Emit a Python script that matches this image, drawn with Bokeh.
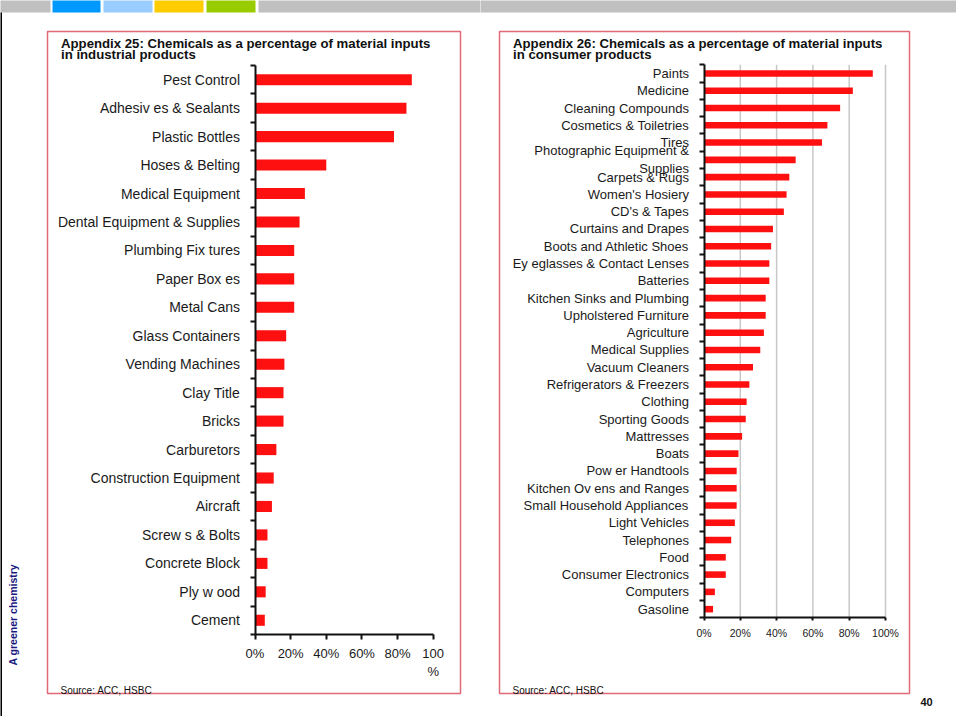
import math
from bokeh.plotting import figure
from bokeh.layouts import row
from bokeh.models import Range1d, FixedTicker, Label, BoxAnnotation
from bokeh.embed import file_html
from bokeh.resources import INLINE

# ---------------- data ----------------
ind_categories = ["Pest Control", "Adhesiv es & Sealants", "Plastic Bottles", "Hoses & Belting",
                  "Medical Equipment", "Dental Equipment & Supplies", "Plumbing Fix tures",
                  "Paper Box es", "Metal Cans", "Glass Containers", "Vending Machines",
                  "Clay Title", "Bricks", "Carburetors", "Construction Equipment", "Aircraft",
                  "Screw s & Bolts", "Concrete Block", "Ply w ood", "Cement"]
ind_values = [88, 85, 78, 40, 28, 25, 22, 22, 22, 17.5, 16.5, 16, 16, 12, 10.5, 9.5, 7, 7, 6, 5.5]

cons_categories = ["Paints", "Medicine", "Cleaning Compounds", "Cosmetics & Toiletries", "Tires",
                   "Photographic Equipment &\nSupplies", "Carpets & Rugs", "Women's Hosiery",
                   "CD's & Tapes", "Curtains and Drapes", "Boots and Athletic Shoes",
                   "Ey eglasses & Contact Lenses", "Batteries", "Kitchen Sinks and Plumbing",
                   "Upholstered Furniture", "Agriculture", "Medical Supplies", "Vacuum Cleaners",
                   "Refrigerators & Freezers", "Clothing", "Sporting Goods", "Mattresses", "Boats",
                   "Pow er Handtools", "Kitchen Ov ens and Ranges", "Small Household Appliances",
                   "Light Vehicles", "Telephones", "Food", "Consumer Electronics", "Computers",
                   "Gasoline"]
cons_values = [93, 82, 75, 68, 65, 50.5, 47, 45.5, 44, 38, 37, 36, 36, 34, 34, 33, 31, 27, 25,
               23.5, 23, 21, 19, 18, 18, 18, 17, 15, 12, 12, 6, 5]

x_ticks = [0, 20, 40, 60, 80, 100]
x_labels_left = ["0%", "20%", "40%", "60%", "80%", "100\n%"]
x_labels_right = ["0%", "20%", "40%", "60%", "80%", "100%"]

title_left = ["Appendix 25: Chemicals as a percentage of material inputs", "in industrial products"]
title_right = ["Appendix 26: Chemicals as a percentage of material inputs", "in consumer products"]
source_text = "Source: ACC, HSBC"
side_text = "A greener chemistry"
page_number = "40"

# ---------------- styles / geometry (page pixels) ----------------
BAR = "#ff1010"
BOX = "#e06a78"
FONT = "Liberation Sans"
HH = 716
W_L = 480
W_R = 476


def make_chart(cats, vals, canvas_left, width, x0, x100, ytop, ybot, label_size,
               xlabels, xlabel_size, xtick_out, xstandoff, bar_h, grid):
    n = len(cats)
    kx = (x100 - x0) / 100.0
    ky = (ybot - ytop) / float(n)

    def fx(X):
        return (X - x0) / kx

    def fy(Y):
        return (ybot - Y) / ky

    p = figure(width=width, height=HH,
               x_range=Range1d(fx(canvas_left), fx(canvas_left + width)),
               y_range=Range1d(fy(HH), fy(0)),
               output_backend="svg", toolbar_location=None,
               min_border_left=0, min_border_right=0, min_border_top=0, min_border_bottom=0)
    p.title.visible = False
    p.outline_line_color = None
    p.background_fill_color = "white"
    p.border_fill_color = "white"
    centers = [n - 0.5 - i for i in range(n)]

    if grid:
        gx = x_ticks[1:]
        p.segment(x0=gx, x1=gx, y0=[0] * len(gx), y1=[n] * len(gx),
                  line_color="#c8c8c8", line_width=1.5)
    p.xgrid.visible = False
    p.ygrid.visible = False

    p.hbar(y=centers, left=0, right=vals, height=bar_h, fill_color=BAR, line_color=None)

    ya = p.yaxis[0]
    ya.fixed_location = 0
    ya.bounds = (0, n)
    ya.ticker = FixedTicker(ticks=centers, minor_ticks=list(range(n + 1)))
    ya.major_label_overrides = {c: name for c, name in zip(centers, cats)}
    ya.major_tick_line_color = None
    ya.major_tick_out = 5
    ya.major_tick_in = 0
    ya.major_label_standoff = 10
    ya.minor_tick_line_color = "#111111"
    ya.minor_tick_line_width = 2
    ya.minor_tick_out = 5
    ya.minor_tick_in = 0
    ya.axis_line_color = "#111111"
    ya.axis_line_width = 2
    ya.major_label_text_font = FONT
    ya.major_label_text_font_size = label_size
    ya.major_label_text_color = "#1a1a1a"

    xa = p.xaxis[0]
    xa.fixed_location = 0
    xa.bounds = (0, 100)
    xa.ticker = FixedTicker(ticks=x_ticks)
    xa.major_label_overrides = {t: lab for t, lab in zip(x_ticks, xlabels)}
    xa.major_tick_line_color = "#111111"
    xa.major_tick_line_width = 2
    xa.major_tick_out = xtick_out
    xa.major_tick_in = 0
    xa.minor_tick_line_color = None
    xa.axis_line_color = "#111111"
    xa.axis_line_width = 2
    xa.major_label_standoff = xstandoff
    xa.major_label_text_font = FONT
    xa.major_label_text_font_size = xlabel_size
    xa.major_label_text_color = "#1a1a1a"
    return p, fx, fy


pL, fxL, fyL = make_chart(ind_categories, ind_values, 0, W_L, 254.5, 432.7, 65.0, 634.0,
                          "14px", x_labels_left, "13px", 5, 6, 0.39, False)
pR, fxR, fyR = make_chart(cons_categories, cons_values, W_L, W_R, 703.5, 885.0, 64.3, 617.3,
                          "13px", x_labels_right, "10.5px", 3, 6, 0.38, True)


def box(p, fx, fy, X0, Y0, X1, Y1, fill=None, line=None, lw=1.5):
    b = BoxAnnotation(left=fx(X0), right=fx(X1), top=fy(Y0), bottom=fy(Y1),
                      fill_color=fill if fill else "white", fill_alpha=1.0 if fill else 0.0,
                      line_color=line if line else "white", line_width=lw,
                      line_alpha=1.0 if line else 0.0)
    p.add_layout(b)


def label(p, fx, fy, X, Y, text, size, bold=False, color="#111111", align="left",
          baseline="alphabetic", angle=0.0):
    p.add_layout(Label(x=fx(X), y=fy(Y), text=text, text_font=FONT, text_font_size=size,
                       text_font_style="bold" if bold else "normal", text_color=color,
                       text_align=align, text_baseline=baseline, angle=angle))


# header bar
header = [(-2, 50, "#c0c0c0"), (52, 100, "#0099ff"), (103, 152, "#99ccff"),
          (154, 203, "#ffcc00"), (206, 255, "#99cc00"), (258, 484, "#c0c0c0")]
for x0, x1, c in header:
    box(pL, fxL, fyL, x0, -2, x1, 12, fill=c, lw=0)
box(pR, fxR, fyR, 476, -2, 962, 12, fill="#c0c0c0", lw=0)
# thin black line on the left page edge
box(pL, fxL, fyL, -2, 12, 1.5, 720, fill="#000000", lw=0)

# panel boxes
box(pL, fxL, fyL, 47, 31, 460, 693, line=BOX)
box(pR, fxR, fyR, 499, 31, 909, 693, line=BOX)

# titles
label(pL, fxL, fyL, 60.5, 43, title_left[0], "13.2px", bold=True)
label(pL, fxL, fyL, 60.5, 54, title_left[1], "13.2px", bold=True)
label(pR, fxR, fyR, 512.5, 43, title_right[0], "13.2px", bold=True)
label(pR, fxR, fyR, 512.5, 54, title_right[1], "13.2px", bold=True)

# sources
label(pL, fxL, fyL, 60, 690, source_text, "10px")
label(pR, fxR, fyR, 512, 690, source_text, "10px")

# side text and page number
label(pL, fxL, fyL, 12.5, 665, side_text, "10.5px", bold=True, color="#1a1a80",
      angle=math.pi / 2, baseline="middle")
label(pR, fxR, fyR, 926, 701, page_number, "11px", bold=True, align="center")

layout = row(pL, pR)
open("out.html", "w").write(file_html(layout, INLINE))
